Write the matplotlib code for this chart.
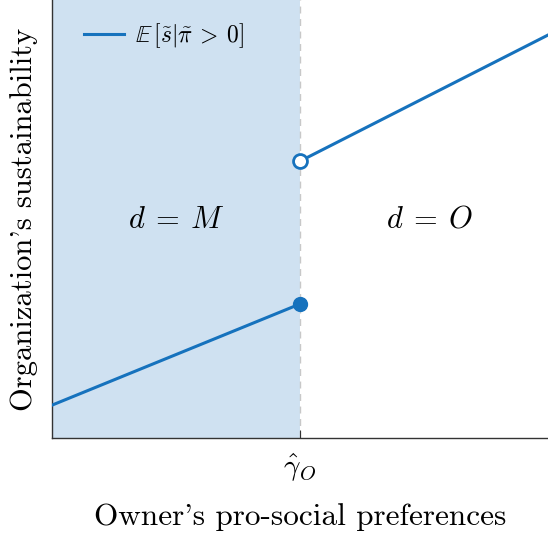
import matplotlib
matplotlib.use("Agg")
import matplotlib.pyplot as plt

plt.rcParams['mathtext.fontset'] = 'cm'
plt.rcParams['font.family'] = ['cmr10', 'DejaVu Serif']
plt.rcParams['axes.formatter.use_mathtext'] = True

# data
x_left = [0.0, 1.0]
y_left = [0.075, 0.306]
x_right = [1.0, 2.0]
y_right = [0.632, 0.92]
gamma_hat = 1.0
xtick_labels = [r'$\hat{\gamma}_O$']

blue = '#1672bd'
shade = '#cfe1f1'

fig = plt.figure(figsize=(5.48, 5.35), dpi=100)
ax = fig.add_axes([52/548, 97/535, 496/548, 438/535])

ax.axvspan(0, gamma_hat, color=shade, lw=0, zorder=0)
ax.axvline(gamma_hat, color='#c8c8c8', ls=(0, (5, 4)), lw=1.0, zorder=1)

ax.plot(x_left, y_left, color=blue, lw=2.2, label=r'$\mathbb{E}\,[\tilde{s}|\tilde{\pi}\:>\:0]$', zorder=3)
ax.plot(x_right, y_right, color=blue, lw=2.2, zorder=3)
ax.plot([x_left[1]], [y_left[1]], 'o', ms=10, color=blue, zorder=4)
ax.plot([x_right[0]], [y_right[0]], 'o', ms=10, mfc='white', mec=blue, mew=2, zorder=4)

ax.text(0.5, 0.498, r'$d\:=\:M$', ha='center', va='center', fontsize=22)
ax.text(1.52, 0.498, r'$d\:=\:O$', ha='center', va='center', fontsize=22)

ax.set_xlim(0, 2)
ax.set_ylim(0, 1)
ax.set_xticks([gamma_hat])
ax.set_xticklabels(xtick_labels, fontsize=21)
ax.set_yticks([])
ax.tick_params(axis='x', direction='in', length=6, color='#333333', pad=10)
for s in ['top', 'right']:
    ax.spines[s].set_visible(False)
for s in ['left', 'bottom']:
    ax.spines[s].set_color('#333333')
    ax.spines[s].set_linewidth(1.0)

ax.set_xlabel("Owner's pro-social preferences", fontsize=22.5, labelpad=14)
ax.set_ylabel("Organization's sustainability", fontsize=22, labelpad=10)

leg = ax.legend(loc='upper left', frameon=False, fontsize=17, handlelength=1.7,
                handletextpad=0.45, borderaxespad=0.0, bbox_to_anchor=(0.045, 0.972))

fig.savefig('out.png', dpi=100)
